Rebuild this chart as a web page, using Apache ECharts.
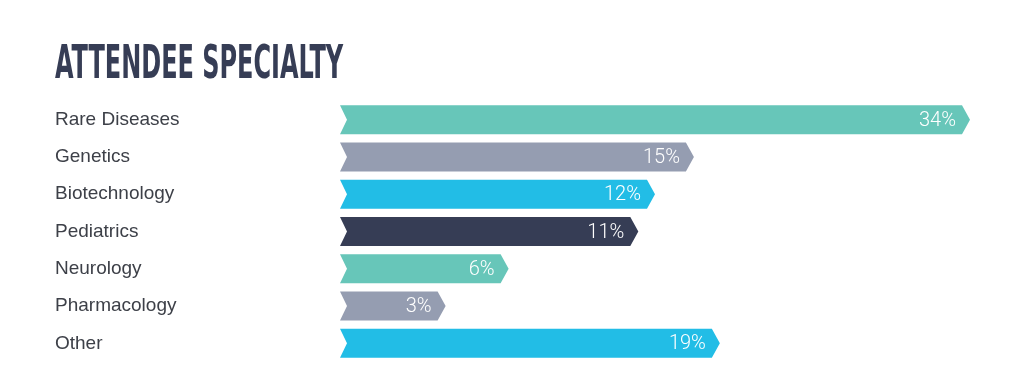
<!DOCTYPE html>
<html>
<head>
<meta charset="utf-8">
<script src="https://cdn.jsdelivr.net/npm/echarts@6/dist/echarts.min.js"></script>
<style>
html,body{margin:0;padding:0;background:#ffffff;}
#chart{width:1024px;height:386px;}
</style>
</head>
<body>
<div id="chart"></div>
<script>
var titleText = 'ATTENDEE SPECIALTY';
var categories = ['Rare Diseases', 'Genetics', 'Biotechnology', 'Pediatrics', 'Neurology', 'Pharmacology', 'Other'];
var shareLabels = ['34%', '15%', '12%', '11%', '6%', '3%', '19%'];
// bar lengths as drawn in the picture (same scale as the longest bar = 34)
var barLength = [34, 19.1, 17.0, 16.1, 9.1, 5.7, 20.5];
var barColors = ['#67c6b9', '#959db1', '#22bde6', '#363d55', '#67c6b9', '#959db1', '#22bde6'];

var chart = echarts.init(document.getElementById('chart'), null, {renderer: 'canvas'});

var data = categories.map(function (c, i) {
  return {value: [barLength[i], i], label: shareLabels[i], color: barColors[i]};
});

chart.setOption({
  animation: false,
  backgroundColor: '#ffffff',
  graphic: [{
    type: 'text',
    left: 55,
    top: 42,
    scaleX: 0.567,
    style: {
      text: titleText,
      fill: '#363d55',
      font: 'bold 47px "Liberation Sans Narrow", "DejaVu Sans Condensed", "Liberation Sans", sans-serif'
    }
  }],
  grid: {left: 340, width: 630, top: 101, height: 261, containLabel: false},
  xAxis: {type: 'value', min: 0, max: 34, show: false},
  yAxis: {
    type: 'category',
    data: categories,
    inverse: true,
    axisLine: {show: false},
    axisTick: {show: false},
    splitLine: {show: false},
    axisLabel: {
      align: 'left',
      margin: 285,
      color: '#3d4048',
      fontSize: 19,
      fontFamily: '"Liberation Sans", Arial, sans-serif'
    }
  },
  series: [{
    type: 'custom',
    data: data,
    encode: {x: 0, y: 1},
    renderItem: function (params, api) {
      var idx = api.value(1);
      var start = api.coord([0, idx]);
      var end = api.coord([api.value(0), idx]);
      var h = 29, tip = 8, notch = 7;
      var x0 = start[0], x1 = end[0], cy = start[1];
      var top = cy - h / 2, bot = cy + h / 2;
      var d = data[params.dataIndex];
      return {
        type: 'group',
        children: [{
          type: 'polygon',
          shape: {points: [[x0, top], [x1 - tip, top], [x1, cy], [x1 - tip, bot], [x0, bot], [x0 + notch, cy]]},
          style: {fill: d.color}
        }, {
          type: 'text',
          x: x1 - 14,
          y: cy + 1,
          style: {
            text: d.label,
            fill: '#ffffff',
            align: 'right',
            verticalAlign: 'middle',
            font: '300 20px Roboto, "Liberation Sans", sans-serif'
          }
        }]
      };
    }
  }]
});
</script>
</body>
</html>
